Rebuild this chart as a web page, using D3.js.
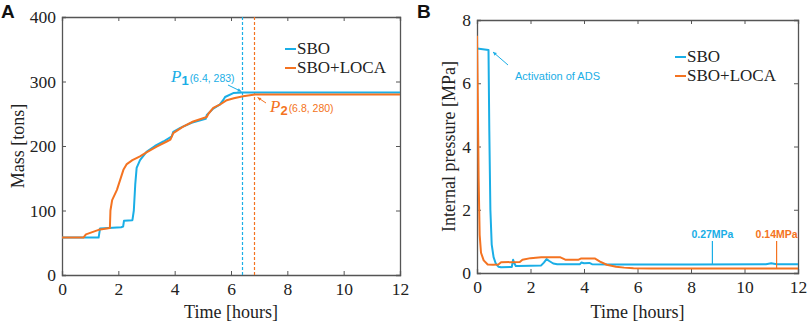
<!DOCTYPE html>
<html><head><meta charset="utf-8">
<script src="https://cdn.jsdelivr.net/npm/d3@7"></script>
<style>
body{margin:0;background:#fff;}
svg{display:block;}
</style></head>
<body><svg id="c" width="809" height="326"></svg>
<script>
// ---------- DATA ----------
const xTicks = [0, 2, 4, 6, 8, 10, 12];
const massTicks = [0, 100, 200, 300, 400];
const presTicks = [0, 2, 4, 6, 8];
const seriesNames = ["SBO", "SBO+LOCA"];

const massTimeSBO = [0,1.3,1.35,2.1,2.17,2.2,2.5,2.55,2.6,2.65,2.77,3.0,3.3,3.6,3.9,3.95,4.2,4.6,5.1,5.14,5.37,5.6,5.72,5.79,6.08,6.4,12];
const massSBO     = [58,58,72,74,75,84,85,100,140,166,178,191,200,207,215,222,228,236,242,248,258,264,271,276,282,283,283];
const massTimeLOCA = [0,0.76,0.85,1.3,1.7,1.72,1.78,1.95,2.18,2.3,2.5,2.77,3.0,3.36,3.72,3.85,3.95,4.3,4.66,5.14,5.2,5.37,5.6,5.85,6.1,6.43,6.85,12];
const massLOCA     = [58,58,63,70,73,100,116,132,163,172,178,184,190,199,207,210,220,230,238,245,250,259,264,271,274,277,280,280];

const presTimeSBO = [0,0.43,0.46,0.5,0.55,0.62,0.7,0.8,0.9,1.3,1.35,1.4,1.45,1.55,2.0,2.4,2.5,2.6,2.7,2.85,3.0,3.5,3.85,3.9,4.0,4.2,4.3,5,8,10.8,11.0,11.2,12];
const presSBO     = [7.1,7.05,4.5,2.0,0.9,0.5,0.3,0.2,0.18,0.19,0.42,0.3,0.22,0.22,0.23,0.24,0.33,0.44,0.38,0.3,0.28,0.28,0.28,0.33,0.31,0.32,0.28,0.27,0.27,0.28,0.31,0.28,0.28];
const presTimeLOCA = [0,0.03,0.06,0.1,0.15,0.25,0.4,0.6,0.8,0.9,1.6,1.7,2.0,2.4,3.1,3.3,3.8,3.9,4.4,4.6,4.85,5.2,5.5,5.85,6.5,12];
const presLOCA     = [7.5,5.5,3.0,1.2,0.64,0.4,0.27,0.26,0.27,0.34,0.35,0.42,0.47,0.5,0.5,0.42,0.42,0.46,0.46,0.36,0.26,0.2,0.17,0.15,0.14,0.14];

const markP1 = {t: 6.4, m: 283}, markP2 = {t: 6.8, m: 280};
const markSBO = {t: 8.8, p: 0.27, label: "0.27MPa"};
const markLOCA = {t: 11.2, p: 0.14, label: "0.14MPa"};

// ---------- STYLE ----------
const BLUE = "#1AAEE6", ORANGE = "#F47321", AX = "#555";
const SERIF = "'Liberation Serif','Times New Roman',serif";
const SANS = "'Liberation Sans',Arial,sans-serif";
const svg = d3.select("#c");
const defs = svg.append("defs");

function panel(opt) {
  const x = d3.scaleLinear().domain([0, 12]).range([opt.x0, opt.x1]);
  const y = d3.scaleLinear().domain(opt.ydom).range([opt.y1, opt.y0]);
  const g = svg.append("g");
  defs.append("clipPath").attr("id", opt.id).append("rect")
    .attr("x", opt.x0).attr("y", opt.y0).attr("width", opt.x1 - opt.x0).attr("height", opt.y1 - opt.y0);

  const tl = 4;
  const bx = g.append("g").attr("transform", `translate(0,${opt.y1})`)
    .call(d3.axisBottom(x).tickValues(xTicks).tickSize(-tl).tickPadding(8).tickFormat(d3.format("d")));
  const tx = g.append("g").attr("transform", `translate(0,${opt.y0})`)
    .call(d3.axisTop(x).tickValues(xTicks).tickSize(-tl).tickFormat(""));
  const ly = g.append("g").attr("transform", `translate(${opt.x0},0)`)
    .call(d3.axisLeft(y).tickValues(opt.yticks).tickSize(-tl).tickPadding(6).tickFormat(d3.format("d")));
  const ry = g.append("g").attr("transform", `translate(${opt.x1},0)`)
    .call(d3.axisRight(y).tickValues(opt.yticks).tickSize(-tl).tickFormat(""));
  [bx, tx, ly, ry].forEach(a => {
    a.selectAll("path.domain").attr("stroke", AX).attr("stroke-width", 1.3);
    a.selectAll(".tick line").attr("stroke", AX).attr("stroke-width", 1);
    a.selectAll(".tick text").attr("fill", "#222").style("font-family", SERIF).style("font-size", "17.5px");
  });
  bx.selectAll(".tick text").attr("dy", "0.71em");

  g.append("text").attr("x", (opt.x0 + opt.x1) / 2).attr("y", 318).attr("text-anchor", "middle")
    .style("font-family", SERIF).style("font-size", "18px").attr("fill", "#222").text("Time [hours]");
  g.append("text").attr("transform", `translate(${opt.ylx},${(opt.y0 + opt.y1) / 2}) rotate(-90)`)
    .attr("text-anchor", "middle").style("font-family", SERIF).style("font-size", "18px").attr("fill", "#222")
    .text(opt.ylabel);
  g.append("text").attr("x", opt.px).attr("y", 18).style("font-family", SANS).style("font-weight", "bold")
    .style("font-size", "19px").attr("fill", "#111").text(opt.panel);
  return {x, y, g};
}

function drawLine(p, clipId, ts, vs, color) {
  const data = ts.map((t, i) => [t, vs[i]]);
  p.g.append("path").datum(data).attr("clip-path", `url(#${clipId})`)
    .attr("fill", "none").attr("stroke", color).attr("stroke-width", 2).attr("stroke-linejoin", "round")
    .attr("d", d3.line().x(d => p.x(d[0])).y(d => p.y(d[1])));
}

function legend(p, lx, ly) {
  [BLUE, ORANGE].forEach((c, i) => {
    const yy = ly + i * 19;
    p.g.append("line").attr("x1", lx).attr("x2", lx + 11).attr("y1", yy - 5).attr("y2", yy - 5)
      .attr("stroke", c).attr("stroke-width", 2);
    p.g.append("text").attr("x", lx + 12).attr("y", yy).style("font-family", SERIF).style("font-size", "17px")
      .attr("fill", "#222").text(seriesNames[i]);
  });
}

function arrow(g, x1, y1, x2, y2, color) {
  g.append("line").attr("x1", x1).attr("y1", y1).attr("x2", x2).attr("y2", y2)
    .attr("stroke", color).attr("stroke-width", 1);
  const a = Math.atan2(y2 - y1, x2 - x1), L = 4, w = 0.45;
  const p1 = [x2 - L * Math.cos(a - w), y2 - L * Math.sin(a - w)];
  const p2 = [x2 - L * Math.cos(a + w), y2 - L * Math.sin(a + w)];
  g.append("path").attr("d", `M${x2},${y2}L${p1[0]},${p1[1]}L${p2[0]},${p2[1]}Z`).attr("fill", color);
}

function pLabel(g, x, y, sub, coords, color) {
  const t = g.append("text").attr("x", x).attr("y", y).attr("fill", color);
  t.append("tspan").style("font-family", SERIF).style("font-style", "italic").style("font-size", "17px").text("P");
  t.append("tspan").attr("dy", 3).style("font-family", SANS).style("font-weight", "bold").style("font-size", "13px").text(sub);
  t.append("tspan").attr("dy", -3).attr("dx", 1).style("font-family", SANS).style("font-size", "10.5px").text(coords);
}

// ---------- PANEL A ----------
const A = panel({id: "clipA", x0: 62, x1: 400, y0: 17, y1: 275, ydom: [0, 400], yticks: massTicks,
  ylabel: "Mass [tons]", ylx: 24, panel: "A", px: 1});
[[markP1.t, BLUE], [markP2.t, ORANGE]].forEach(([t, c]) => {
  const xx = Math.round(A.x(t)) + 0.5;
  A.g.append("line").attr("x1", xx).attr("x2", xx).attr("y1", A.y(400)).attr("y2", A.y(0))
    .attr("stroke", c).attr("stroke-width", 1.2).attr("stroke-dasharray", "3,2");
});
drawLine(A, "clipA", massTimeSBO, massSBO, BLUE);
drawLine(A, "clipA", massTimeLOCA, massLOCA, ORANGE);
legend(A, 285, 54);
pLabel(A.g, 171, 82, "1", `(${markP1.t}, ${markP1.m})`, BLUE);
arrow(A.g, 228, 85, A.x(markP1.t) - 1, A.y(markP1.m) - 1, BLUE);
pLabel(A.g, 270, 112, "2", `(${markP2.t}, ${markP2.m})`, ORANGE);
arrow(A.g, 266, 103, A.x(markP2.t) + 4, A.y(markP2.m) + 3, ORANGE);

// ---------- PANEL B ----------
const B = panel({id: "clipB", x0: 477, x1: 798, y0: 20, y1: 273, ydom: [0, 8], yticks: presTicks,
  ylabel: "Internal pressure [MPa]", ylx: 455, panel: "B", px: 417});
drawLine(B, "clipB", presTimeSBO, presSBO, BLUE);
drawLine(B, "clipB", presTimeLOCA, presLOCA, ORANGE);
legend(B, 675, 62);
B.g.append("text").attr("x", 515).attr("y", 80).attr("fill", BLUE).style("font-family", SANS)
  .style("font-size", "11px").text("Activation of ADS");
arrow(B.g, 508, 65, 493, 52, BLUE);
[[markSBO, BLUE], [markLOCA, ORANGE]].forEach(([m, c]) => {
  B.g.append("line").attr("x1", B.x(m.t)).attr("x2", B.x(m.t)).attr("y1", 241).attr("y2", B.y(m.p))
    .attr("stroke", c).attr("stroke-width", 1.2);
  B.g.append("text").attr("x", B.x(m.t)).attr("y", 238).attr("text-anchor", "middle").attr("fill", c)
    .style("font-family", SANS).style("font-weight", "bold").style("font-size", "10.5px").text(m.label);
});
</script></body></html>
